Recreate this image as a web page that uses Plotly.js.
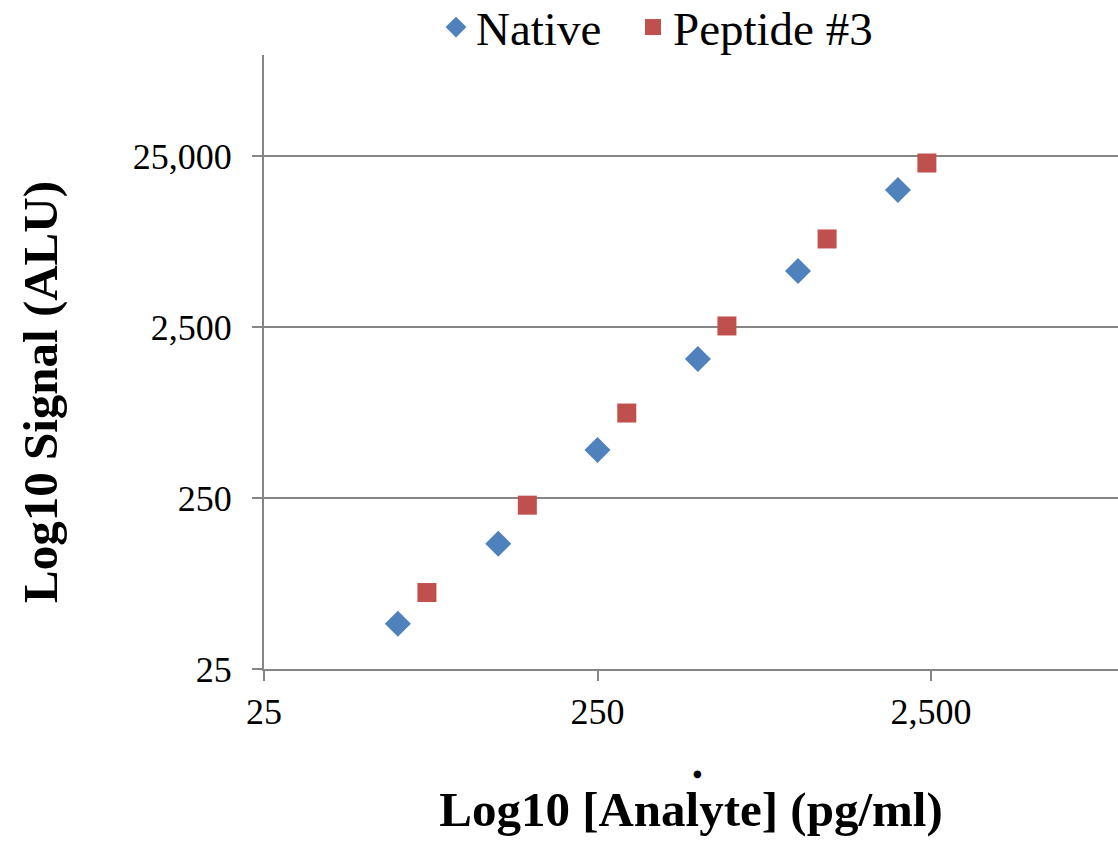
<!DOCTYPE html>
<html>
<head>
<meta charset="utf-8">
<script src="https://cdn.plot.ly/plotly-3.0.1.min.js"></script>
<style>html,body{margin:0;padding:0;background:#fff;}#chart{width:1118px;height:845px;}</style>
</head>
<body>
<div id="chart"></div>
<script>
// Data
const nativeX = [63, 126, 250, 500, 998, 1990];
const nativeY = [46, 135, 477, 1625, 5310, 15800];
const peptideX = [77, 154, 306, 611, 1220, 2430];
const peptideY = [70, 227, 785, 2535, 8180, 22750];
const tickVals = [25, 250, 2500, 25000];
const tickText = ["25", "250", "2,500", "25,000"];

const FONT = "Liberation Serif, DejaVu Serif, serif";

const traces = [
  {
    x: nativeX, y: nativeY, name: "Native", type: "scatter", mode: "markers",
    legend: "legend",
    marker: {symbol: "diamond", size: 20, color: "#4F81BD"}
  },
  {
    x: peptideX, y: peptideY, name: "Peptide #3", type: "scatter", mode: "markers",
    legend: "legend2",
    marker: {symbol: "square", size: 19, color: "#C0504D"}
  }
];

const legendCommon = {
  orientation: "h", xanchor: "left",
  yref: "paper", y: (669 + 10)/614, yanchor: "top",
  font: {size: 47, family: FONT}, itemwidth: 30, bgcolor: "rgba(0,0,0,0)"
};

const layout = {
  width: 1118, height: 845,
  margin: {l: 264, r: 0, t: 55, b: 176, autoexpand: false},
  paper_bgcolor: "#fff", plot_bgcolor: "#fff",
  font: {family: FONT, color: "#000"},
  showlegend: true,
  legend: Object.assign({}, legendCommon, {x: (436 - 264)/854}),
  legend2: Object.assign({}, legendCommon, {x: (633 - 264)/854}),
  xaxis: {
    type: "log",
    range: [Math.log10(25), Math.log10(25) + 854/333.5],
    tickvals: tickVals, ticktext: tickText,
    tickfont: {size: 36, family: FONT},
    showgrid: false, zeroline: false,
    showline: true, linecolor: "#868686", linewidth: 2,
    ticks: "outside", ticklen: 10, tickcolor: "#868686", tickwidth: 2,
    title: {text: "<b>Log10 [Analyte] (pg/ml)</b>", font: {size: 49, family: FONT}, standoff: 60}
  },
  yaxis: {
    type: "log",
    range: [Math.log10(25), Math.log10(25) + 614/171],
    tickvals: tickVals, ticktext: tickText,
    tickfont: {size: 36, family: FONT},
    ticklabelstandoff: 13,
    showgrid: true, gridcolor: "#868686", gridwidth: 1.5,
    zeroline: false,
    showline: true, linecolor: "#868686", linewidth: 2,
    ticks: "outside", ticklen: 10, tickcolor: "#868686", tickwidth: 2
  },
  annotations: [
    {xref: "paper", yref: "paper", x: (40-264)/854, y: (669-392)/614,
     text: "<b>Log10 Signal (ALU)</b>", textangle: -90, showarrow: false,
     font: {size: 49, family: FONT, color: "#000"}, xanchor: "center", yanchor: "middle"},
    {xref: "paper", yref: "paper", x: (697-264)/854, y: (669-773)/614,
     text: "●", showarrow: false, font: {size: 10, family: "DejaVu Sans", color: "#000"}, xanchor: "center", yanchor: "middle"}
  ]
};

Plotly.newPlot("chart", traces, layout, {displayModeBar: false});
</script>
</body>
</html>
